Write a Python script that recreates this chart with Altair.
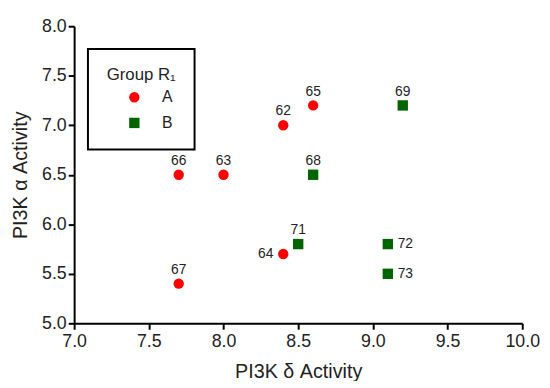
import altair as alt
import pandas as pd

# Data
labels_A = ["62", "65", "66", "63", "64", "67"]
x_A = [8.4, 8.6, 7.7, 8.0, 8.4, 7.7]
y_A = [7.0, 7.2, 6.5, 6.5, 5.7, 5.4]

labels_B = ["69", "68", "71", "72", "73"]
x_B = [9.2, 8.6, 8.5, 9.1, 9.1]
y_B = [7.2, 6.5, 5.8, 5.8, 5.5]

groups = ["A", "B"]
colors = ["#ff0000", "#006400"]
shapes = ["circle", "square"]

x_ticks = [7.0, 7.5, 8.0, 8.5, 9.0, 9.5, 10.0]
y_ticks = [5.0, 5.5, 6.0, 6.5, 7.0, 7.5, 8.0]

left_labels = ["64"]
right_labels = ["72", "73"]

df = pd.DataFrame({
    "label": labels_A + labels_B,
    "x": x_A + x_B,
    "y": y_A + y_B,
    "group": ["A"] * len(labels_A) + ["B"] * len(labels_B),
})

FONT = "Liberation Sans"

xenc = alt.X("x:Q", scale=alt.Scale(domain=[7.0, 10.0], nice=False),
             axis=alt.Axis(values=x_ticks, format=".1f", title="PI3K δ Activity",
                           titlePadding=11, labelPadding=4, labelFlush=False))
yenc = alt.Y("y:Q", scale=alt.Scale(domain=[5.0, 8.0], nice=False),
             axis=alt.Axis(values=y_ticks, format=".1f", title="PI3K α Activity",
                           titlePadding=11, labelPadding=2, labelFlush=False))

base = alt.Chart(df).encode(x=xenc, y=yenc)

leg = alt.Legend(title="Group R₁", orient="none", legendX=14, legendY=23)
points = base.mark_point(filled=True, opacity=1, size=110).encode(
    color=alt.Color("group:N", scale=alt.Scale(domain=groups, range=colors), legend=leg),
    shape=alt.Shape("group:N", scale=alt.Scale(domain=groups, range=shapes), legend=leg),
)

text_style = dict(font=FONT, fontSize=14, color="#222222")

above = base.mark_text(baseline="alphabetic", align="center", dy=-10, **text_style).encode(
    text="label:N"
).transform_filter(
    ~alt.FieldOneOfPredicate(field="label", oneOf=left_labels + right_labels)
)
left = base.mark_text(baseline="middle", align="right", dx=-10, **text_style).encode(
    text="label:N"
).transform_filter(alt.FieldOneOfPredicate(field="label", oneOf=left_labels))
right = base.mark_text(baseline="middle", align="left", dx=10, **text_style).encode(
    text="label:N"
).transform_filter(alt.FieldOneOfPredicate(field="label", oneOf=right_labels))

chart = alt.layer(points, above, left, right).properties(
    width=454, height=301,
    autosize=alt.AutoSizeParams(type="none"),
    padding={"left": 67, "top": 16, "right": 20, "bottom": 56},
).configure_view(stroke=None).configure_axis(
    grid=False,
    domainColor="black", domainWidth=2,
    tickColor="black", tickWidth=2, tickSize=6,
    labelFont=FONT, labelFontSize=18, labelColor="#222222",
    titleFont=FONT, titleFontSize=20, titleFontWeight="normal", titleColor="#222222",
).configure_legend(
    strokeColor="black", strokeWidth=2, padding=19, fillColor="white",
    titleFont=FONT, titleFontSize=17, titleFontWeight="normal", titleColor="#222222",
    titleAnchor="middle", titlePadding=5,
    labelFont=FONT, labelFontSize=16, labelColor="#222222",
    symbolOffset=17, labelOffset=20, rowPadding=10, symbolSize=110,
    symbolStrokeWidth=0,
)

chart.save("out.html", embed_options={"renderer": "svg", "actions": False})
